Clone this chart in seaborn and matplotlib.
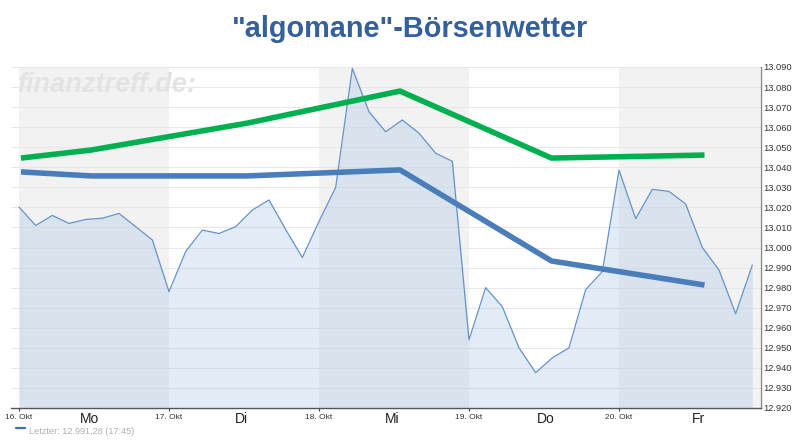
import numpy as np
import pandas as pd
import matplotlib
matplotlib.use("Agg")
import matplotlib.pyplot as plt
from matplotlib.ticker import FuncFormatter
import seaborn as sns

# ---- data -------------------------------------------------------------
price = [13020.2, 13011, 13016, 13012, 13014, 13014.6, 13017, 13010.4, 13003.8,
         12978, 12998, 13008.7, 13007, 13010.4, 13018.7, 13023.7, 13009, 12995,
         13013, 13030, 13089.3, 13067.7, 13057.7, 13063.6, 13057, 13047, 13043,
         12954, 12980, 12970.5, 12950, 12937.6, 12945, 12950, 12979, 12988,
         13038.6, 13014.4, 13029, 13028, 13021.7, 13000, 12988.8, 12967, 12991.3]
steps_per_day = 9
price_days = [i / steps_per_day for i in range(len(price))]

trend_days = [0.013, 0.48, 1.52, 2.54, 3.55, 4.57]
green_vals = [13044.6, 13048.6, 13062, 13078, 13044.6, 13046.1]
blue_vals = [13037.7, 13035.7, 13035.7, 13038.7, 12993.3, 12981.3]

date_ticks = [0, 1, 2, 3, 4]
date_labels = ["16. Okt", "17. Okt", "18. Okt", "19. Okt", "20. Okt"]
day_pos = [0.467, 1.48, 2.49, 3.513, 4.527]
day_labels = ["Mo", "Di", "Mi", "Do", "Fr"]
y_ticks = list(range(12920, 13091, 10))
shaded_days = [(0, 1), (2, 3), (4, 4.943)]

# ---- style ------------------------------------------------------------
sns.set_theme(style="white")
plt.rcParams["font.family"] = ["Liberation Sans", "DejaVu Sans"]

W, H = 808, 448
fig = plt.figure(figsize=(W / 100, H / 100), dpi=100, facecolor="white")
L, R, T, B = 11, 760.5, 67, 408
ax = fig.add_axes([L / W, 1 - B / H, (R - L) / W, (B - T) / H])
ax.set_xlim(-8 / 150, (R - 19) / 150)
ax.set_ylim(12920, 13090)
ax.set_facecolor("white")

for a, b in shaded_days:
    ax.axvspan(a, b, color="#f2f2f2", lw=0, zorder=0)
for v in y_ticks[1:]:
    ax.axhline(v, color="#e8e8e8", lw=0.8, zorder=1)

ax.fill_between(price_days, price, 12920, color="#a8c6e8", alpha=0.33, lw=0, zorder=2)
sns.lineplot(x=price_days, y=price, ax=ax, color="#6593c8", lw=0.9, zorder=3, errorbar=None)
sns.lineplot(x=trend_days, y=green_vals, ax=ax, color="#00b050", lw=4.0, zorder=4,
             errorbar=None, solid_capstyle="butt", solid_joinstyle="round")
sns.lineplot(x=trend_days, y=blue_vals, ax=ax, color="#4a7ebb", lw=4.0, zorder=5,
             errorbar=None, solid_capstyle="butt", solid_joinstyle="round")

ax.set_xlabel("")
ax.set_ylabel("")
ax.yaxis.tick_right()
ax.set_yticks(y_ticks)
ax.yaxis.set_major_formatter(FuncFormatter(lambda v, _: f"{int(v):,}".replace(",", ".")))
ax.tick_params(axis="y", labelsize=6.7, length=0, pad=2.2, colors="#333333")
ax.set_xticks(date_ticks)
ax.set_xticklabels(date_labels, fontsize=6.0, color="#333333")
ax.tick_params(axis="x", length=2, width=0.8, pad=2.2, color="#444444", bottom=True)
for s in ["top", "left"]:
    ax.spines[s].set_visible(False)
ax.spines["bottom"].set_color("#555555")
ax.spines["bottom"].set_linewidth(1.0)
ax.spines["right"].set_color("#888888")
ax.spines["right"].set_linewidth(1.0)

trans = ax.get_xaxis_transform()
for p, lab in zip(day_pos, day_labels):
    ax.text(p, -0.032, lab, transform=trans, ha="center", va="center",
            fontsize=10, color="#222222", family="Liberation Sans")

fig.text(410 / W, 1 - 29 / H, '"algomane"-Börsenwetter', ha="center", va="center",
         fontsize=20.8, fontweight="bold", color="#34609b")
fig.text(17 / W, 1 - 85 / H, "finanztreff.de:", ha="left", va="center",
         fontsize=19.5, fontweight="bold", style="italic", color="#e3e3e3", zorder=6)

fig.add_artist(plt.Line2D([16 / W, 25 / W], [1 - 428 / H] * 2, color="#3c6eb4", lw=1.6))
fig.text(29 / W, 1 - 431 / H, "Letzter: 12.991,28 (17:45)", ha="left", va="center",
         fontsize=6.6, color="#b0b0b0")

fig.savefig("out.png", dpi=100)
